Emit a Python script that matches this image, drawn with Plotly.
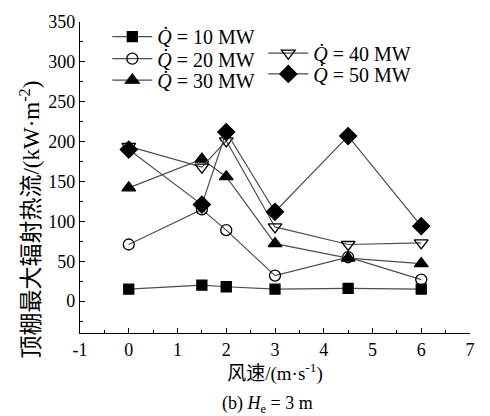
import plotly.graph_objects as go

# Wind speed (m/s) and peak ceiling radiative heat flux (kW/m^2) per heat release rate
wind_speed = [0, 1.5, 2, 3, 4.5, 6]
q10 = [15, 20, 18, 15, 16, 15]
q20 = [71, 115, 89, 32, 55, 27]
q30 = [142, 178, 156, 72, 54, 47]
q40 = [194, 168, 201, 93, 71, 73]
q50 = [190, 121, 212, 112, 207, 94]

series_names = ["10 MW", "20 MW", "30 MW", "40 MW", "50 MW"]
series_values = [q10, q20, q30, q40, q50]
symbols = ["square", "circle-open", "triangle-up", "triangle-down-open", "diamond"]
marker_sizes = [10, 11, 12, 12, 13]

x_ticks = [-1, 0, 1, 2, 3, 4, 5, 6, 7]
y_ticks = [0, 50, 100, 150, 200, 250, 300, 350]

FONT = "Liberation Serif, Times New Roman, Noto Sans CJK SC, serif"

# one legend box per series: two staggered columns of entries
legend_ids = ["legend", "legend2", "legend3", "legend4", "legend5"]
legend_pos = [(0.07, 0.953), (0.07, 0.882), (0.07, 0.813), (0.47, 0.900), (0.47, 0.833)]

fig = go.Figure()
for name, vals, sym, ms, lg in zip(series_names, series_values, symbols, marker_sizes, legend_ids):
    fig.add_trace(go.Scatter(
        x=wind_speed, y=vals, mode="lines+markers",
        name="<i>Q̇</i> = " + name,
        line=dict(color="#4d4d4d", width=1.2),
        marker=dict(symbol=sym, size=ms, color="black",
                    line=dict(color="black", width=1.3)),
        legend=lg, showlegend=True,
    ))

axis_common = dict(
    showline=True, linecolor="black", linewidth=1.2,
    ticks="inside", ticklen=5, tickwidth=1, tickcolor="black",
    showgrid=False, zeroline=False, mirror=False,
    tickfont=dict(family=FONT, size=18, color="black"),
)

legends = {}
for lg, (lx, ly) in zip(legend_ids, legend_pos):
    legends[lg] = dict(x=lx, y=ly, xanchor="left", yanchor="middle",
                       bgcolor="rgba(0,0,0,0)", font=dict(family=FONT, size=20),
                       itemwidth=40)

fig.update_layout(
    width=490, height=416,
    margin=dict(l=80, r=20, t=15, b=83),
    paper_bgcolor="white", plot_bgcolor="white",
    font=dict(family=FONT, size=17, color="black"),
    showlegend=True,
    xaxis=dict(range=[-1, 7], tickvals=x_ticks, ticktext=[str(v) for v in x_ticks],
               minor=dict(ticks="inside", ticklen=3, dtick=0.5, tickcolor="black"),
               title=dict(text="风速/(m·s<sup>-1</sup>)", font=dict(size=19), standoff=7),
               **axis_common),
    yaxis=dict(range=[-40, 350], tickvals=y_ticks, ticktext=[str(v) for v in y_ticks],
               minor=dict(ticks="inside", ticklen=3, dtick=25, tickcolor="black"),
               **axis_common),
    annotations=[
        dict(text="顶棚最大辐射热流/(kW·m<sup>-2</sup>)", xref="paper", yref="paper",
             x=-0.128, y=0.365, xanchor="center", yanchor="middle", textangle=-90,
             showarrow=False, font=dict(family=FONT, size=23, color="black")),
        dict(text="(b) <i>H</i><sub>e</sub> = 3 m", xref="paper", yref="paper",
             x=0.482, y=-0.187, xanchor="center", yanchor="top", showarrow=False,
             font=dict(family=FONT, size=18, color="black")),
    ],
    **legends,
)

fig.write_html("out.html")
